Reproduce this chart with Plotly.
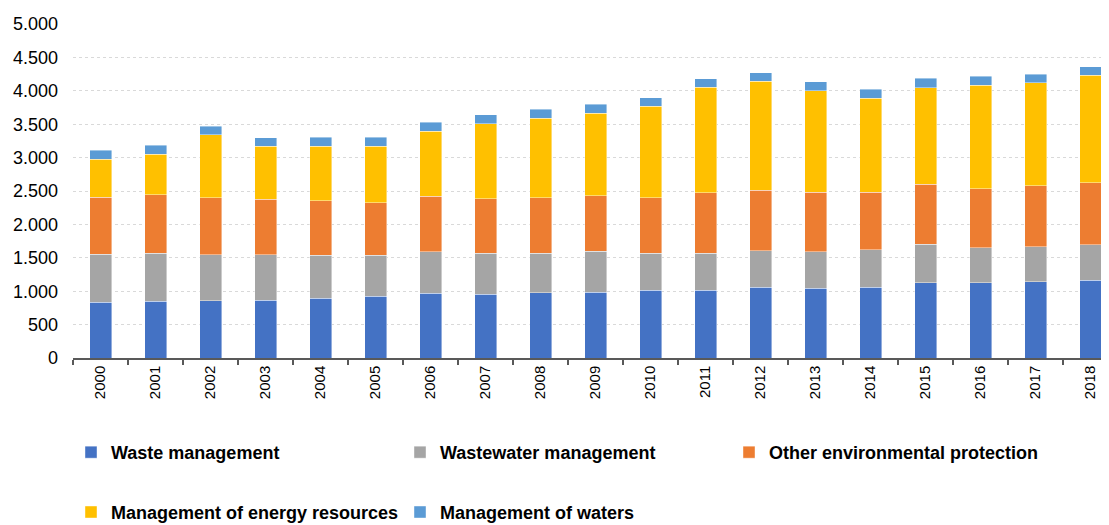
import plotly.graph_objects as go

years = [str(y) for y in range(2000, 2019)]
waste_management = [832, 847, 857, 862, 891, 921, 971, 951, 976, 986, 1011, 1011, 1061, 1041, 1056, 1130, 1130, 1140, 1165]
wastewater_management = [722, 722, 692, 687, 648, 618, 618, 618, 593, 613, 558, 558, 543, 553, 567, 573, 523, 523, 528]
other_env_protection = [856, 876, 851, 831, 817, 787, 836, 816, 831, 831, 831, 906, 906, 891, 857, 897, 882, 917, 931]
energy_resources = [568, 603, 942, 787, 816, 841, 966, 1121, 1186, 1235, 1370, 1579, 1633, 1514, 1409, 1449, 1549, 1538, 1609]
waters = [129, 134, 129, 130, 135, 140, 135, 139, 139, 135, 129, 124, 130, 139, 135, 139, 134, 130, 129]
y_ticks = [0, 500, 1000, 1500, 2000, 2500, 3000, 3500, 4000, 4500, 5000]

series = [
    ("Waste management", waste_management, "#4472C4", "legend"),
    ("Wastewater management", wastewater_management, "#A5A5A5", "legend"),
    ("Other environmental protection", other_env_protection, "#ED7D31", "legend"),
    ("Management of energy resources", energy_resources, "#FFC000", "legend2"),
    ("Management of waters", waters, "#5B9BD5", "legend2"),
]

fig = go.Figure()
for name, vals, color, lg in series:
    fig.add_trace(go.Bar(
        x=years, y=vals, name=name, legend=lg,
        marker=dict(color=color, line=dict(color="rgba(255,255,255,0.7)", width=0.6)),
    ))

# page body has an 8px default margin: figure placed at (8, 8) in the window
OFF = 8
W, H = 1109 - 2 * OFF, 530
left = 73 - OFF
top = 23.5 - OFF
plot_bottom = 358.3 - OFF
bottom = H - plot_bottom
plot_w = W - left
plot_h = plot_bottom - top

def px_to_paper_x(px):
    return (px - OFF - left) / plot_w

def py_to_paper_y(py):
    return (plot_bottom - (py - OFF)) / plot_h

legend_font = dict(family="Liberation Sans, Arial, sans-serif", size=18, color="#000000", weight="bold")

common_legend = dict(
    orientation="h", xanchor="left", yanchor="middle",
    entrywidth=284, entrywidthmode="pixels",
    font=legend_font, traceorder="normal",
    bgcolor="rgba(0,0,0,0)",
)

fig.update_layout(
    width=W, height=H,
    barmode="stack",
    bargap=0.6,
    separators=",.",
    plot_bgcolor="white",
    paper_bgcolor="white",
    margin=dict(l=left, r=0, t=top, b=bottom),
    font=dict(family="Liberation Sans, Arial, sans-serif", color="#000000"),
    legend=dict(x=px_to_paper_x(71), y=py_to_paper_y(453), **common_legend),
    legend2=dict(x=px_to_paper_x(71), y=py_to_paper_y(513), **common_legend),
)

fig.update_xaxes(
    type="category",
    range=[-0.5, -0.5 + plot_w / 55.0],
    tickangle=-90,
    tickfont=dict(size=15, color="#000000"),
    showline=True, linecolor="#595959", linewidth=1.5,
    ticks="outside", tickson="boundaries", ticklen=5, tickcolor="#595959", tickwidth=1.5,
    showgrid=False,
)
fig.update_yaxes(
    range=[0, 5000],
    tickvals=y_ticks,
    tickformat=",d",
    tickfont=dict(size=18, color="#000000"),
    showgrid=True, gridcolor="#D9D9D9", griddash="dot", gridwidth=1,
    zeroline=False, showline=False, ticks="",
    ticklabelstandoff=14,
)

fig.write_html("out.html")
